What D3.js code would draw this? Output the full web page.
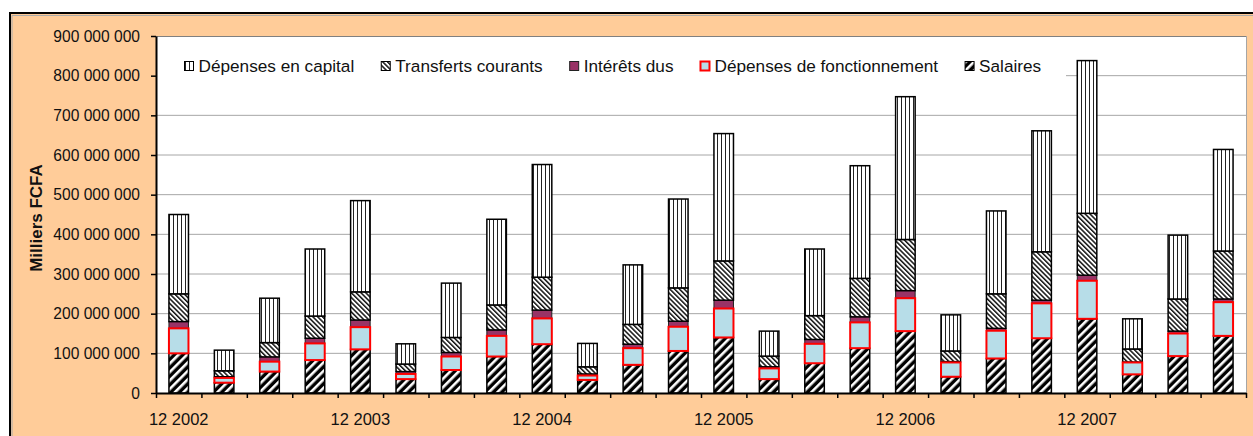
<!DOCTYPE html>
<html>
<head>
<meta charset="utf-8">
<script src="https://cdn.jsdelivr.net/npm/d3@7"></script>
<style>
  body { margin: 0; background: #fff; }
  svg { display: block; font-family: "Liberation Sans", Arial, sans-serif; }
</style>
</head>
<body>
<div id="chart"></div>
<script>
// Quarterly categories (only the December ones get a label)
const categories = [
    "12 2002", "03 2003", "06 2003", "09 2003", "12 2003", "03 2004", "06 2004", "09 2004",
    "12 2004", "03 2005", "06 2005", "09 2005", "12 2005", "03 2006", "06 2006", "09 2006",
    "12 2006", "03 2007", "06 2007", "09 2007", "12 2007", "03 2008", "06 2008", "09 2008"
];

// Values in millions of "Milliers FCFA"
const salaires       = [100, 26, 54, 83, 110, 35, 58, 92, 123, 33, 71, 106, 140, 35, 75, 113, 156, 41, 87, 138, 187, 47, 93, 144];
const fonctionnement = [63, 12, 25, 42, 56, 13, 34, 52, 65, 11, 42, 61, 73, 27, 49, 65, 83, 36, 70, 88, 96, 30, 57, 85];
const interets       = [17, 3, 12, 13, 18, 6, 10, 15, 21, 4, 10, 14, 21, 4, 11, 14, 19, 2, 6, 8, 14, 1, 6, 8];
const transferts     = [70, 15, 36, 56, 71, 19, 38, 63, 83, 18, 50, 84, 99, 27, 60, 97, 129, 27, 87, 122, 156, 33, 81, 121];
const capital        = [200, 52, 112, 169, 230, 51, 137, 216, 284, 59, 150, 224, 321, 63, 168, 284, 360, 91, 209, 305, 385, 76, 161, 256];

const yTicks = [0, 100, 200, 300, 400, 500, 600, 700, 800, 900];
const seriesNames = {
    capital: "Dépenses en capital",
    transferts: "Transferts courants",
    interets: "Intérêts dus",
    fonctionnement: "Dépenses de fonctionnement",
    salaires: "Salaires"
};

(function() {
    const W = 1253, H = 436;
    const margin = { top: 36, right: 7, bottom: 43, left: 156 },
        width = W - margin.left - margin.right,
        height = H - margin.top - margin.bottom;

    const svg = d3.select("#chart")
        .append("svg")
        .attr("width", W)
        .attr("height", H);

    // Patterns for the hatched series
    const defs = svg.append("defs");
    const pSal = defs.append("pattern").attr("id", "pSal")
        .attr("patternUnits", "userSpaceOnUse").attr("width", 6).attr("height", 6)
        .attr("patternTransform", "rotate(45)");
    pSal.append("rect").attr("width", 6).attr("height", 6).attr("fill", "#000");
    pSal.append("rect").attr("width", 2.6).attr("height", 6).attr("fill", "#fff");

    const pTr = defs.append("pattern").attr("id", "pTr")
        .attr("patternUnits", "userSpaceOnUse").attr("width", 3.4).attr("height", 3.4)
        .attr("patternTransform", "rotate(-45)");
    pTr.append("rect").attr("width", 3.4).attr("height", 3.4).attr("fill", "#fff");
    pTr.append("rect").attr("width", 1.5).attr("height", 3.4).attr("fill", "#111");

    const pCap = defs.append("pattern").attr("id", "pCap")
        .attr("patternUnits", "userSpaceOnUse").attr("width", 4).attr("height", 4);
    pCap.append("rect").attr("width", 4).attr("height", 4).attr("fill", "#fff");
    pCap.append("rect").attr("x", 1).attr("width", 1).attr("height", 4).attr("fill", "#222");

    const style = {
        salaires:       { fill: "url(#pSal)", stroke: "#000", sw: 1.5 },
        fonctionnement: { fill: "#B7DDE8", stroke: "#FF0000", sw: 2 },
        interets:       { fill: "#993366", stroke: "#222", sw: 1 },
        transferts:     { fill: "url(#pTr)", stroke: "#000", sw: 1.5 },
        capital:        { fill: "url(#pCap)", stroke: "#000", sw: 1.5 }
    };

    // Outer chart frame (orange background)
    svg.append("rect")
        .attr("x", 10).attr("y", 13)
        .attr("width", W + 20).attr("height", H + 20)
        .attr("fill", "#FFCC99")
        .attr("stroke", "#000").attr("stroke-width", 2);
    svg.append("path")
        .attr("d", `M12,${H + 5}V15.5H${W + 5}`)
        .attr("fill", "none").attr("stroke", "#aaa").attr("stroke-width", 1);

    const g = svg.append("g")
        .attr("transform", `translate(${margin.left},${margin.top})`);

    // Scales
    const x = d3.scaleBand()
        .domain(categories)
        .range([0, width])
        .padding(0);
    const xb = d3.scaleLinear() // category boundaries for the tick marks
        .domain([0, categories.length])
        .range([0, width]);
    const y = d3.scaleLinear()
        .domain([0, 900])
        .range([height, 0]);
    const barW = x.step() * 0.43;

    // Plot area + grid
    g.append("rect").attr("width", width).attr("height", height).attr("fill", "#fff");
    g.selectAll(".grid")
        .data(yTicks.filter(d => d > 0 && d < 900))
        .enter().append("line")
        .attr("x1", 0).attr("x2", width)
        .attr("y1", d => y(d)).attr("y2", d => y(d))
        .attr("stroke", "#A6A6A6").attr("stroke-width", 1);
    g.append("line").attr("x1", 0).attr("x2", width).attr("y1", 0.5).attr("y2", 0.5)
        .attr("stroke", "#808080");
    g.append("line").attr("x1", width + 0.5).attr("x2", width + 0.5).attr("y1", 0).attr("y2", height)
        .attr("stroke", "#A6A6A6");

    // Legend box hides the grid behind it
    g.append("rect")
        .attr("x", 1).attr("y", 14)
        .attr("width", 909).attr("height", 34)
        .attr("fill", "#fff");

    // Stack the series
    const keys = ["salaires", "fonctionnement", "interets", "transferts", "capital"];
    const table = categories.map((c, i) => ({
        cat: c,
        salaires: salaires[i],
        fonctionnement: fonctionnement[i],
        interets: interets[i],
        transferts: transferts[i],
        capital: capital[i]
    }));
    const stacked = d3.stack().keys(keys)(table);

    // red-bordered layer is drawn last so its outline stays on top
    const drawOrder = ["salaires", "interets", "transferts", "capital", "fonctionnement"];
    drawOrder.forEach(k => {
        const layer = stacked.find(s => s.key === k);
        g.append("g")
            .selectAll("rect")
            .data(layer)
            .enter().append("rect")
            .attr("x", d => x(d.data.cat) + (x.step() - barW) / 2)
            .attr("y", d => y(d[1]))
            .attr("width", barW)
            .attr("height", d => y(d[0]) - y(d[1]))
            .attr("fill", style[k].fill)
            .attr("stroke", style[k].stroke)
            .attr("stroke-width", style[k].sw);
    });

    // Y axis
    const fmt = d => d3.format(",")(d * 1e6).replace(/,/g, " ");
    const yAxis = g.append("g")
        .call(d3.axisLeft(y).tickValues(yTicks).tickSize(5).tickSizeOuter(0).tickPadding(11).tickFormat(fmt));
    yAxis.select(".domain").attr("stroke", "#000").attr("stroke-width", 2);
    yAxis.selectAll(".tick line").attr("stroke", "#000").attr("stroke-width", 1.5);
    yAxis.selectAll("text").style("font-size", "15.6px").attr("fill", "#111");

    // X axis: tick marks on boundaries, labels on December quarters
    const xTicks = g.append("g")
        .attr("transform", `translate(0,${height})`)
        .call(d3.axisBottom(xb).tickValues(d3.range(0, categories.length + 1)).tickSize(5).tickSizeOuter(0).tickFormat(""));
    xTicks.select(".domain").attr("stroke", "#000").attr("stroke-width", 2);
    xTicks.selectAll(".tick line").attr("stroke", "#000").attr("stroke-width", 1.5);

    const xLabels = g.append("g")
        .attr("transform", `translate(0,${height})`)
        .call(d3.axisBottom(x).tickValues(categories.filter(c => c.startsWith("12"))).tickSize(0).tickPadding(20));
    xLabels.select(".domain").remove();
    xLabels.selectAll("text").style("font-size", "16.5px").attr("fill", "#111");

    // Y axis title
    svg.append("text")
        .attr("transform", "translate(42,218) rotate(-90)")
        .style("text-anchor", "middle")
        .style("font-size", "17px")
        .style("font-weight", "bold")
        .attr("fill", "#111")
        .text("Milliers FCFA");

    // Legend (top to bottom order of the stack)
    const legend = svg.append("g").attr("transform", "translate(184,61)");
    let lx = 0;
    keys.slice().reverse().forEach(k => {
        const item = legend.append("g").attr("transform", `translate(${lx},0)`);
        item.append("rect")
            .attr("x", 0.5).attr("y", 0.5)
            .attr("width", 9).attr("height", 9)
            .attr("fill", style[k].fill)
            .attr("stroke", style[k].stroke)
            .attr("stroke-width", k === "fonctionnement" ? 2 : 1);
        const t = item.append("text")
            .attr("x", 14.5)
            .attr("y", 5)
            .attr("dy", ".35em")
            .style("font-size", "17.2px")
            .attr("fill", "#111")
            .text(seriesNames[k]);
        lx += 14.5 + t.node().getComputedTextLength() + 26.5;
    });
})();
</script>
</body>
</html>
